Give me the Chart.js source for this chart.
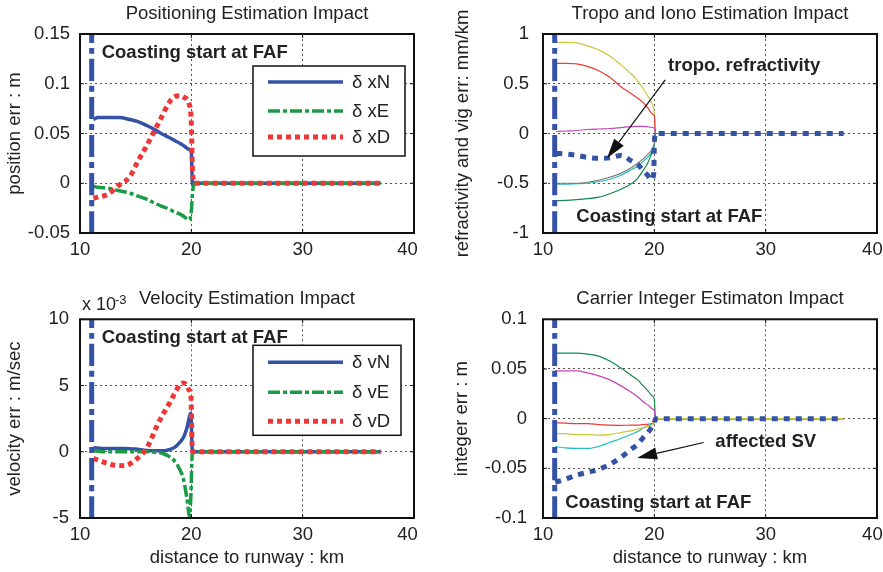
<!DOCTYPE html>
<html>
<head>
<meta charset="utf-8">
<script src="https://cdn.jsdelivr.net/npm/chart.js@4.4.0/dist/chart.umd.min.js"></script>
<style>
  body { margin: 0; background: #fff; }
  canvas { position: absolute; }
</style>
</head>
<body>
<canvas id="posChart" width="440" height="280" style="left:0;top:0"></canvas>
<canvas id="tropoChart" width="443" height="280" style="left:440px;top:0"></canvas>
<canvas id="velChart" width="440" height="292" style="left:0;top:280px"></canvas>
<canvas id="intChart" width="443" height="292" style="left:440px;top:280px"></canvas>
<script>
// coasting start (FAF), km
const fafKm = 11.05;
const xTicks = [10, 20, 30, 40];

// --- Positioning Estimation Impact (m) ---
const posTicks = [-0.05, 0, 0.05, 0.1, 0.15];
const posX = [11.2, 11.6, 12.5, 13.5, 14.5, 15.2, 16, 16.7, 17.3, 18, 18.5, 19, 19.4, 19.8, 20, 20.1, 20.3, 25, 37];
const posN = [0.064, 0.066, 0.066, 0.066, 0.064, 0.062, 0.058, 0.054, 0.050, 0.046, 0.043, 0.040, 0.037, 0.034, 0.031, 0, 0, 0, 0];
const posE = [-0.003, -0.004, -0.005, -0.0075, -0.010, -0.013, -0.016, -0.020, -0.023, -0.026, -0.029, -0.031, -0.034, -0.037, -0.028, -0.01, 0, 0, 0];
const posD = [-0.015, -0.014, -0.011, -0.002, 0.007, 0.022, 0.038, 0.053, 0.066, 0.081, 0.087, 0.088, 0.086, 0.080, 0.060, 0.015, 0, 0, 0];

// --- Tropo and Iono Estimation Impact (mm/km) ---
const tropoTicks = [-1, -0.5, 0, 0.5, 1];
const tropoX = [11.2, 12, 13, 14, 15, 16, 17, 18, 18.5, 19, 19.4, 19.7, 19.95, 20, 20.1, 20.3, 25, 37];
const tropoYel = [0.915, 0.915, 0.91, 0.88, 0.84, 0.78, 0.69, 0.59, 0.53, 0.45, 0.38, 0.32, 0.25, 0.2, 0, 0, 0, 0];
const tropoRed = [0.705, 0.705, 0.70, 0.675, 0.63, 0.565, 0.47, 0.395, 0.355, 0.31, 0.26, 0.21, 0.185, 0.18, 0, 0, 0, 0];
const tropoMag = [0.02, 0.025, 0.03, 0.04, 0.045, 0.05, 0.06, 0.07, 0.072, 0.072, 0.068, 0.063, 0.058, 0.055, 0, 0, 0, 0];
const tropoGry = [-0.5, -0.5, -0.5, -0.49, -0.47, -0.44, -0.4, -0.34, -0.3, -0.255, -0.21, -0.175, -0.12, -0.1, 0, 0, 0, 0];
const tropoCyn = [-0.51, -0.51, -0.505, -0.5, -0.485, -0.46, -0.42, -0.36, -0.33, -0.28, -0.24, -0.2, -0.14, -0.12, 0, 0, 0, 0];
const tropoGrn = [-0.675, -0.672, -0.665, -0.655, -0.64, -0.605, -0.56, -0.5, -0.45, -0.37, -0.3, -0.22, -0.13, -0.11, 0, 0, 0, 0];
const tropoRefr = [-0.2, -0.205, -0.22, -0.24, -0.25, -0.245, -0.22, -0.28, -0.31, -0.37, -0.42, -0.467, -0.40, -0.1, 0, 0, 0, 0];

// --- Velocity Estimation Impact (x 1e-3 m/sec) ---
const velTicks = [-5, 0, 5, 10];
const velX = [11.2, 12, 13, 14, 15, 16, 17, 17.5, 18, 18.5, 19, 19.3, 19.6, 19.85, 19.95, 20.1, 20.3, 25, 37];
const velN = [0.3, 0.25, 0.25, 0.25, 0.2, 0.1, 0.08, 0.08, 0.15, 0.33, 0.75, 1.1, 1.8, 2.7, 2.9, 0, 0, 0, 0];
const velE = [0.1, 0, 0, 0, 0, 0, -0.05, -0.15, -0.35, -0.7, -1.4, -2.1, -3.5, -4.9, -3.5, 0, 0, 0, 0];
const velD = [-0.5, -0.75, -1.0, -1.05, -0.6, 0.3, 2.1, 2.9, 3.6, 4.4, 5.1, 5.2, 5.0, 4.6, 4.5, 0, 0, 0, 0];

// --- Carrier Integer Estimaton Impact (m) ---
const intTicks = [-0.1, -0.05, 0, 0.05, 0.1];
const intX = [11.1, 12, 13, 14, 15, 16, 17, 18, 18.5, 19, 19.5, 19.8, 20, 20.1, 20.3, 25, 37];
const intGrn = [0.066, 0.066, 0.066, 0.065, 0.063, 0.058, 0.051, 0.043, 0.039, 0.033, 0.027, 0.023, 0.019, 0, 0, 0, 0];
const intMag = [0.048, 0.048, 0.048, 0.046, 0.043, 0.039, 0.033, 0.026, 0.022, 0.017, 0.013, 0.010, 0.008, 0, 0, 0, 0];
const intRed = [-0.004, -0.0045, -0.005, -0.005, -0.006, -0.0065, -0.0068, -0.0065, -0.0065, -0.006, -0.0055, -0.005, -0.003, 0, 0, 0, 0];
const intYel = [-0.015, -0.015, -0.016, -0.016, -0.0165, -0.016, -0.014, -0.012, -0.0105, -0.009, -0.0075, -0.0065, -0.004, 0, 0, 0, 0];
const intCyn = [-0.028, -0.0295, -0.030, -0.030, -0.028, -0.024, -0.020, -0.0155, -0.013, -0.0095, -0.0065, -0.005, -0.004, 0, 0, 0, 0];
const intSV = [-0.064, -0.061, -0.057, -0.054, -0.051, -0.046, -0.039, -0.030, -0.026, -0.019, -0.013, -0.008, -0.005, 0, 0, 0, 0];

const FONT = "'Liberation Sans', Arial, Helvetica, sans-serif";
Chart.defaults.font.family = FONT;
Chart.defaults.font.size = 18.5;
Chart.defaults.color = '#222';

const BLUE = '#3553a6', GREEN = '#1a9c46', RED = '#ee3737';

const pts = (xs, ys) => xs.map((x, i) => ({ x: x, y: ys[i] }));

function fafLine(ticks) {
  return {
    data: [{ x: fafKm, y: ticks[0] }, { x: fafKm, y: ticks[ticks.length - 1] }],
    borderColor: BLUE, borderWidth: 5, borderDash: [22, 5, 6, 5], order: 0
  };
}
function thin(xs, ys, color, order) {
  return { data: pts(xs, ys), borderColor: color, borderWidth: 1.2, order: order };
}

// box, inner ticks
const frame = {
  id: 'frame',
  afterDatasetsDraw(chart) {
    const { ctx, chartArea: a, scales } = chart;
    ctx.save();
    ctx.strokeStyle = '#111';
    ctx.lineWidth = 1;
    ctx.beginPath();
    scales.x.ticks.forEach(t => {
      const px = scales.x.getPixelForValue(t.value);
      ctx.moveTo(px, a.bottom); ctx.lineTo(px, a.bottom - 4);
      ctx.moveTo(px, a.top); ctx.lineTo(px, a.top + 4);
    });
    scales.y.ticks.forEach(t => {
      const py = scales.y.getPixelForValue(t.value);
      ctx.moveTo(a.left, py); ctx.lineTo(a.left + 4, py);
      ctx.moveTo(a.right, py); ctx.lineTo(a.right - 4, py);
    });
    ctx.stroke();
    ctx.lineWidth = 2;
    ctx.strokeRect(a.left, a.top, a.right - a.left, a.bottom - a.top);
    ctx.restore();
  }
};

// text labels + arrows placed in data units
const notes = {
  id: 'notes',
  afterDatasetsDraw(chart, args, opts) {
    const { ctx, chartArea: a, scales: { x, y } } = chart;
    ctx.save();
    ctx.fillStyle = '#222';
    ctx.font = 'bold 18.5px ' + FONT;
    ctx.textBaseline = 'middle';
    ctx.textAlign = 'left';
    (opts.texts || []).forEach(t => ctx.fillText(t.text, x.getPixelForValue(t.x), y.getPixelForValue(t.y)));
    (opts.arrows || []).forEach(ar => {
      const x0 = x.getPixelForValue(ar.from[0]), y0 = y.getPixelForValue(ar.from[1]);
      const x1 = x.getPixelForValue(ar.to[0]), y1 = y.getPixelForValue(ar.to[1]);
      const ang = Math.atan2(y1 - y0, x1 - x0);
      const hl = 20, hw = 6;
      const bx = x1 - hl * Math.cos(ang), by = y1 - hl * Math.sin(ang);
      ctx.strokeStyle = '#111';
      ctx.lineWidth = 1.2;
      ctx.beginPath(); ctx.moveTo(x0, y0); ctx.lineTo(bx, by); ctx.stroke();
      ctx.beginPath();
      ctx.moveTo(x1, y1);
      ctx.lineTo(bx + hw * Math.sin(ang), by - hw * Math.cos(ang));
      ctx.lineTo(bx - hw * Math.sin(ang), by + hw * Math.cos(ang));
      ctx.closePath();
      ctx.fillStyle = '#111';
      ctx.fill();
    });
    if (opts.multiplier) {
      ctx.fillStyle = '#222';
      ctx.textBaseline = 'alphabetic';
      ctx.font = '18px ' + FONT;
      ctx.fillText('x 10', a.left + 2, a.top - 9);
      ctx.font = '13px ' + FONT;
      ctx.fillText(opts.multiplier, a.left + 35, a.top - 15);
    }
    ctx.restore();
  }
};

// boxed legend inside the axes
const boxLegend = {
  id: 'boxLegend',
  afterDraw(chart, args, opts) {
    if (!opts.items) return;
    const { ctx, chartArea: a } = chart;
    const L = a.left + opts.left, T = a.top + opts.top;
    ctx.save();
    ctx.fillStyle = '#fff';
    ctx.fillRect(L, T, opts.w, opts.h);
    ctx.strokeStyle = '#111';
    ctx.lineWidth = 1.5;
    ctx.strokeRect(L, T, opts.w, opts.h);
    opts.items.forEach((di, i) => {
      const ds = chart.data.datasets[di];
      const yy = T + opts.rows[i];
      ctx.strokeStyle = ds.borderColor;
      ctx.lineWidth = ds.borderWidth;
      ctx.setLineDash(ds.borderDash || []);
      ctx.beginPath(); ctx.moveTo(L + 15, yy); ctx.lineTo(L + 90, yy); ctx.stroke();
      ctx.setLineDash([]);
      ctx.fillStyle = '#222';
      ctx.font = '18.5px ' + FONT;
      ctx.textBaseline = 'middle';
      ctx.fillText(ds.label, L + 99, yy + 1);
    });
    ctx.restore();
  }
};

function makeChart(id, o) {
  const grid = { color: '#555', lineWidth: 1, drawTicks: false };
  const border = { display: false, dash: [2, 3] };
  const lastX = xTicks[xTicks.length - 1];
  return new Chart(document.getElementById(id), {
    type: 'line',
    data: { datasets: o.datasets },
    plugins: [frame, notes, boxLegend],
    options: {
      responsive: false,
      animation: false,
      devicePixelRatio: 1,
      layout: { padding: { left: 0, right: o.padR, top: 0, bottom: 0 } },
      elements: {
        point: { radius: 0 },
        line: { fill: false, borderCapStyle: 'butt', cubicInterpolationMode: 'monotone' }
      },
      scales: {
        x: {
          type: 'linear', min: xTicks[0], max: lastX,
          afterBuildTicks: s => { s.ticks = xTicks.map(v => ({ value: v })); },
          afterFit: s => { s.height = o.xh; s.paddingLeft = 0; s.paddingRight = 0; },
          // last label sits a little inside the frame edge, as in the figure
          ticks: { padding: 6, maxRotation: 0, autoSkip: false, color: '#222',
                   callback: v => v === lastX ? String(v) + o.lastPad : String(v) },
          grid: grid, border: border,
          title: { display: !!o.xTitle, text: o.xTitle, color: '#222', padding: { top: 0, bottom: 3 } }
        },
        y: {
          type: 'linear', min: o.yTicks[0], max: o.yTicks[o.yTicks.length - 1],
          afterBuildTicks: s => { s.ticks = o.yTicks.map(v => ({ value: v })); },
          afterFit: s => { s.width = o.yw; },
          ticks: { padding: o.yPad, color: '#222', callback: v => String(v) },
          grid: grid, border: border,
          title: { display: true, text: o.yTitle, color: '#222', padding: { top: o.yTitlePad, bottom: 0 } }
        }
      },
      plugins: {
        legend: { display: false },
        tooltip: { enabled: false },
        title: {
          display: true, text: o.title, fullSize: false, color: '#222',
          font: { size: 18.5, weight: 'normal' },
          padding: { top: o.tPad[0], bottom: o.tPad[1] }
        },
        notes: o.notes || {},
        boxLegend: o.legend || {}
      }
    }
  });
}

makeChart('posChart', {
  title: 'Positioning Estimation Impact', tPad: [3, 8.8],
  yTitle: 'position err : m', yTitlePad: 4, yw: 80, yPad: 10, xh: 47, padR: 26, lastPad: '\u2002\u2009',
  yTicks: posTicks,
  datasets: [
    { label: 'δ xN', data: pts(posX, posN), borderColor: BLUE, borderWidth: 3.5, order: 3 },
    { label: 'δ xE', data: pts(posX, posE), borderColor: GREEN, borderWidth: 3.5, borderDash: [12, 3, 4, 3], order: 2 },
    { label: 'δ xD', data: pts(posX, posD), borderColor: RED, borderWidth: 5, borderDash: [5, 4], order: 1 },
    fafLine(posTicks)
  ],
  notes: { texts: [{ text: 'Coasting start at FAF', x: 11.95, y: 0.131 }] },
  legend: { items: [0, 1, 2], left: 173, top: 32, w: 152, h: 90, rows: [16, 45, 71] }
});

makeChart('tropoChart', {
  title: 'Tropo and Iono Estimation Impact', tPad: [2.5, 9.3],
  yTitle: 'refractivity and vig err: mm/km', yTitlePad: 12, yw: 103, yPad: 14, xh: 47, padR: 6, lastPad: '\u2002',
  yTicks: tropoTicks,
  datasets: [
    thin(tropoX, tropoYel, '#c9c83a', 7),
    thin(tropoX, tropoRed, '#f03a3a', 6),
    thin(tropoX, tropoMag, '#c546b5', 5),
    thin(tropoX, tropoCyn, '#22bcc4', 4),
    thin(tropoX, tropoGrn, '#148a4a', 3),
    thin(tropoX, tropoGry, '#7a7a70', 2),
    { data: pts(tropoX, tropoRefr), borderColor: BLUE, borderWidth: 5, borderDash: [6, 6], order: 1 },
    fafLine(tropoTicks)
  ],
  notes: {
    texts: [
      { text: 'tropo. refractivity', x: 21.23, y: 0.678 },
      { text: 'Coasting start at FAF', x: 12.99, y: -0.839 }
    ],
    arrows: [{ from: [20.98, 0.538], to: [15.75, -0.249] }]
  }
});

makeChart('velChart', {
  title: 'Velocity Estimation Impact', tPad: [7.5, 9.6],
  yTitle: 'velocity err : m/sec', yTitlePad: 4, yw: 80, yPad: 11, xh: 54, padR: 26, lastPad: '\u2002\u2009',
  xTitle: 'distance to runway : km',
  yTicks: velTicks,
  datasets: [
    { label: 'δ vN', data: pts(velX, velN), borderColor: BLUE, borderWidth: 3.5, order: 3 },
    { label: 'δ vE', data: pts(velX, velE), borderColor: GREEN, borderWidth: 3.5, borderDash: [12, 3, 4, 3], order: 2 },
    { label: 'δ vD', data: pts(velX, velD), borderColor: RED, borderWidth: 5, borderDash: [5, 4], order: 1 },
    fafLine(velTicks)
  ],
  notes: { texts: [{ text: 'Coasting start at FAF', x: 11.95, y: 8.62 }], multiplier: '-3' },
  legend: { items: [0, 1, 2], left: 173, top: 26, w: 148, h: 90, rows: [17, 47, 76] }
});

makeChart('intChart', {
  title: 'Carrier Integer Estimaton Impact', tPad: [7.5, 9.6],
  yTitle: 'integer err : m', yTitlePad: 11, yw: 103, yPad: 16, xh: 54, padR: 6, lastPad: '\u2002',
  xTitle: 'distance to runway : km',
  yTicks: intTicks,
  datasets: [
    thin(intX, intGrn, '#148a4a', 6),
    thin(intX, intMag, '#c546b5', 5),
    thin(intX, intRed, '#f03a3a', 4),
    thin(intX, intCyn, '#22bcc4', 3),
    thin(intX, intYel, '#c9c83a', 2),
    { data: pts(intX, intSV), borderColor: BLUE, borderWidth: 5, borderDash: [6, 6], order: 1 },
    fafLine(intTicks)
  ],
  notes: {
    texts: [
      { text: 'affected SV', x: 25.48, y: -0.0234 },
      { text: 'Coasting start at FAF', x: 12.0, y: -0.0847 }
    ],
    arrows: [{ from: [24.43, -0.024], to: [18.45, -0.0395] }]
  }
});
</script>
</body>
</html>
